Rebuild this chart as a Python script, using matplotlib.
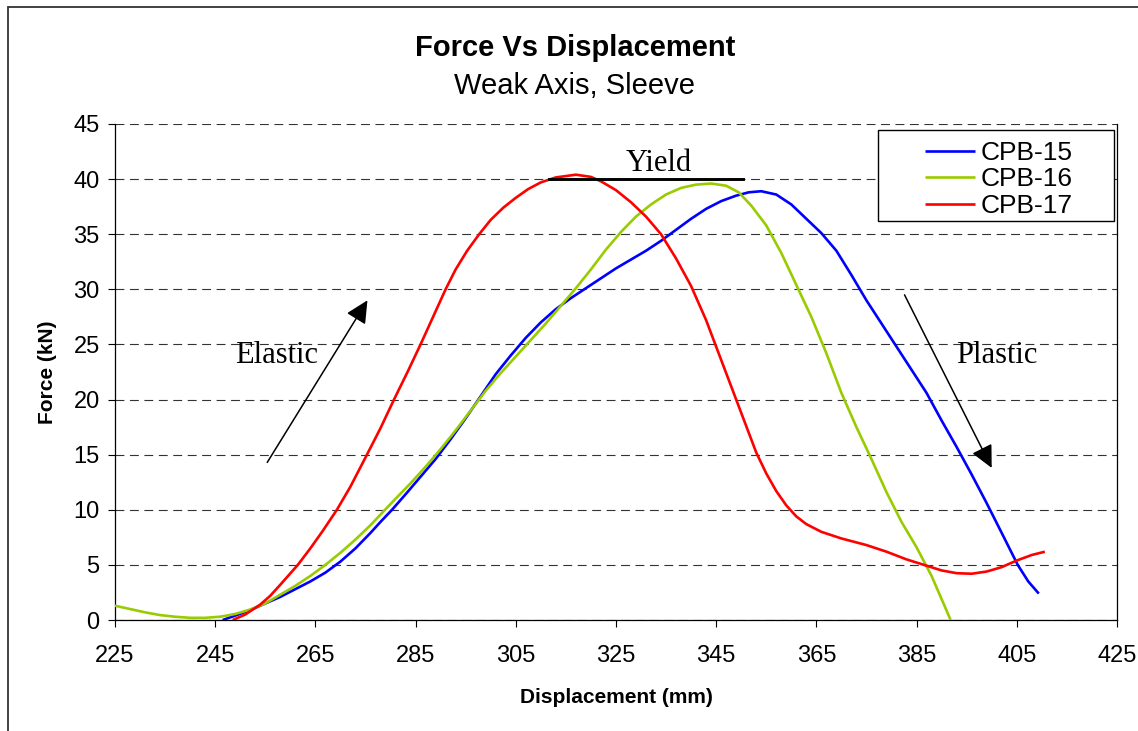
import matplotlib
matplotlib.use("Agg")
import matplotlib.pyplot as plt
from matplotlib.patches import Rectangle

plt.rcParams['font.family'] = ['Liberation Sans', 'DejaVu Sans']

# ---- data: displacement (mm) vs force (kN) ----
cpb15_disp = [246.5, 249, 252, 255, 258, 261, 264, 267, 270, 273, 276, 278, 280.3,
              283, 286, 289, 292, 295, 298, 301, 304, 307, 310, 313, 316, 319, 322,
              325, 328, 331, 334, 337, 340, 343, 346, 349, 351.5, 354, 357, 360, 363,
              366, 369, 372, 375, 378, 381, 384, 387, 390, 393, 396, 399, 402, 405.2,
              407.3, 409.4]
cpb15_force = [0.0, 0.4, 0.9, 1.5, 2.1, 2.8, 3.5, 4.3, 5.3, 6.5, 7.9, 8.9, 10.0,
               11.4, 13.0, 14.6, 16.4, 18.3, 20.3, 22.3, 24.0, 25.6, 27.0, 28.2, 29.2,
               30.1, 31.0, 31.9, 32.7, 33.5, 34.4, 35.4, 36.4, 37.3, 38.0, 38.5, 38.8,
               38.9, 38.6, 37.7, 36.4, 35.1, 33.5, 31.3, 29.0, 26.9, 24.8, 22.7, 20.6,
               18.1, 15.7, 13.2, 10.6, 7.9, 5.0, 3.5, 2.4]

cpb16_disp = [225, 228, 231, 234, 237, 240, 243, 246, 249, 252, 255, 258, 261, 264,
              267, 270, 273, 276, 278.7, 281, 284, 287, 290, 293, 296, 299, 302, 305,
              308, 311, 314, 317, 320, 323, 326, 329, 332, 335, 338, 341, 344, 347,
              349.5, 352, 355, 358, 361, 364, 367, 370, 373, 376, 379, 382, 385, 388,
              390, 391.8]
cpb16_force = [1.3, 1.0, 0.7, 0.45, 0.3, 0.2, 0.2, 0.3, 0.55, 0.95, 1.5, 2.3, 3.1,
               4.0, 5.0, 6.1, 7.3, 8.6, 9.9, 11.0, 12.4, 13.9, 15.5, 17.2, 19.0, 20.8,
               22.4, 23.9, 25.4, 26.9, 28.5, 30.1, 31.8, 33.6, 35.2, 36.6, 37.7, 38.6,
               39.2, 39.5, 39.6, 39.4, 38.8, 37.6, 35.8, 33.3, 30.4, 27.5, 24.2, 20.6,
               17.5, 14.6, 11.6, 8.9, 6.6, 4.0, 1.9, 0.0]

cpb17_disp = [248.5, 251, 254, 256, 258, 261.5, 264, 266.5, 269.3, 272, 275.3, 278,
              280.7, 283.4, 286, 289, 291, 293, 295.3, 297.7, 300, 302.5, 305, 307.5,
              310, 313, 317, 320, 322, 325, 328, 331, 334, 337, 340, 343, 345, 347,
              349, 351, 353, 355, 357, 359, 361, 363, 366, 370, 375, 379, 383, 386.5,
              390, 393, 396, 399, 402, 405, 408, 410.6]
cpb17_force = [0.0, 0.5, 1.4, 2.2, 3.2, 5.0, 6.5, 8.1, 10.0, 12.1, 15.0, 17.4, 20.0,
               22.5, 25.0, 28.0, 30.0, 31.8, 33.5, 35.0, 36.3, 37.4, 38.3, 39.1, 39.7,
               40.15, 40.4, 40.2, 39.8, 39.0, 37.9, 36.6, 35.0, 32.8, 30.3, 27.2, 24.8,
               22.4, 20.0, 17.6, 15.2, 13.3, 11.7, 10.4, 9.4, 8.7, 8.0, 7.4, 6.8, 6.2,
               5.5, 5.0, 4.5, 4.25, 4.2, 4.4, 4.8, 5.4, 5.9, 6.2]

series_names = ["CPB-15", "CPB-16", "CPB-17"]
series_colors = ["#0000FF", "#99CC00", "#FF0000"]

x_ticks = [225, 245, 265, 285, 305, 325, 345, 365, 385, 405, 425]
y_ticks = [0, 5, 10, 15, 20, 25, 30, 35, 40, 45]

# yield plateau and annotation arrows (disp, force)
yield_span = (311.6, 350.4)
yield_level = 40
elastic_arrow = ((255.4, 14.3), (275.4, 29.0))
plastic_arrow = ((382.6, 29.5), (400.0, 13.8))

# ---- figure ----
fig = plt.figure(figsize=(11.38, 7.31), dpi=100)
ax = fig.add_axes([0.101, 0.1518, 0.8805, 0.6786])

# outer chart border
fig.add_artist(Rectangle((0.0070, -0.2), 1.2, 1.1904, transform=fig.transFigure,
                         fill=False, edgecolor="#333333", linewidth=1.3))

for d, f, name, c in zip([cpb15_disp, cpb16_disp, cpb17_disp],
                         [cpb15_force, cpb16_force, cpb17_force],
                         series_names, series_colors):
    ax.plot(d, f, color=c, linewidth=1.9, label=name, zorder=3,
            solid_joinstyle="round", solid_capstyle="butt")

ax.set_xlim(225, 425)
ax.set_ylim(0, 45)
ax.set_xticks(x_ticks)
ax.set_yticks(y_ticks)
ax.tick_params(axis="both", direction="out", length=5, width=0.8,
               labelsize=17, colors="black")
ax.tick_params(axis="x", pad=13)
ax.tick_params(axis="y", pad=6)

ax.yaxis.grid(True, linestyle=(0, (8, 5)), color="#333333", linewidth=0.8)
ax.set_axisbelow(True)
ax.spines["top"].set_visible(False)
for s in ["left", "bottom", "right"]:
    ax.spines[s].set_linewidth(0.9)
    ax.spines[s].set_color("black")

ax.set_xlabel("Displacement (mm)", fontsize=15, fontweight="bold")
ax.set_ylabel("Force (kN)", fontsize=15, fontweight="bold")
ax.xaxis.set_label_coords(0.5, -0.138)
ax.yaxis.set_label_coords(-0.058, 0.5)

fig.text(0.505, 0.923, "Force Vs Displacement", fontsize=21, fontweight="bold",
         ha="center", va="baseline")
fig.text(0.505, 0.8714, "Weak Axis, Sleeve", fontsize=21, ha="center", va="baseline")

# yield line and labels
serif = ["Liberation Serif", "DejaVu Serif"]
ax.plot(list(yield_span), [yield_level, yield_level], color="black", linewidth=2.1, zorder=4)
ax.text(333.6, 40.7, "Yield", family=serif, fontsize=22, ha="center", va="baseline")
ax.text(257.2, 23.35, "Elastic", family=serif, fontsize=22, ha="center", va="baseline")
ax.text(401.1, 23.35, "Plastic", family=serif, fontsize=22, ha="center", va="baseline")

arrow_kw = dict(arrowstyle="-|>,head_length=0.55,head_width=0.27", color="black",
                lw=1.1, shrinkA=0, shrinkB=0, mutation_scale=25)
for (tail, tip) in [elastic_arrow, plastic_arrow]:
    ax.annotate("", xy=tip, xytext=tail, arrowprops=arrow_kw, zorder=5)

# legend box
ax.add_patch(Rectangle((0.7615, 0.8044), 0.2355, 0.1835, transform=ax.transAxes,
                       facecolor="white", edgecolor="black", linewidth=1.0,
                       zorder=6, clip_on=False))
leg = ax.legend(loc="upper left", bbox_to_anchor=(0.8084, 0.966), frameon=False,
                fontsize=19, borderpad=0, borderaxespad=0, handlelength=1.9,
                handletextpad=0.2, labelspacing=0.1)
leg.set_zorder(7)
for line in leg.get_lines():
    line.set_linewidth(1.9)

fig.savefig("out.png", dpi=100)
